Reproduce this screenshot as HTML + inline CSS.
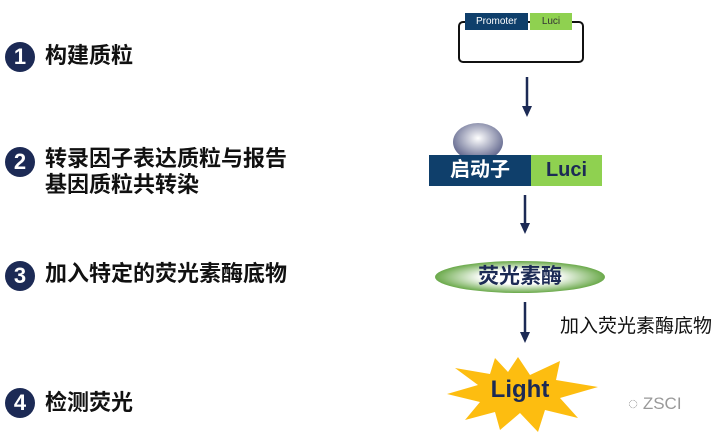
<!DOCTYPE html>
<html><head><meta charset="utf-8"><style>
body{margin:0;width:722px;height:435px;background:#fff;position:relative;overflow:hidden;font-family:"Liberation Sans","Noto Sans CJK SC",sans-serif}
.a{position:absolute}
.c{position:absolute;left:5px;width:30px;height:30px;border-radius:50%;background:#1c2a55;color:#fff;font-weight:bold;font-size:22px;text-align:center;line-height:30px}
.t{position:absolute;left:45px;font-size:22px;font-weight:bold;color:#111;line-height:26px}
</style></head><body>
<div class="c" style="top:42px">1</div><div class="t" style="top:43px">构建质粒</div>
<div class="c" style="top:147px">2</div><div class="t" style="top:146px">转录因子表达质粒与报告<br>基因质粒共转染</div>
<div class="c" style="top:261px">3</div><div class="t" style="top:261px">加入特定的荧光素酶底物</div>
<div class="c" style="top:388px">4</div><div class="t" style="top:390px">检测荧光</div>

<div class="a" style="left:458px;top:21px;width:122px;height:38px;border:2px solid #111;border-radius:5px"></div>
<div class="a" style="left:465px;top:13px;width:63px;height:17px;background:#0f3f6b;color:#fff;font-size:10px;text-align:center;line-height:17px">Promoter</div>
<div class="a" style="left:530px;top:13px;width:42px;height:17px;background:#8fd150;color:#333;font-size:10px;text-align:center;line-height:17px">Luci</div>

<svg class="a" style="left:0;top:0" width="722" height="435">
<defs><radialGradient id="g" cx="0.5" cy="0.4" r="0.6"><stop offset="0" stop-color="#fff"/><stop offset="1" stop-color="#5a6088"/></radialGradient>
<radialGradient id="e" cx="0.5" cy="0.5" r="0.5"><stop offset="0.45" stop-color="#fff"/><stop offset="1" stop-color="#6aa94a"/></radialGradient></defs>
<g stroke="#1c2a55" stroke-width="2.5" fill="#1c2a55">
<line x1="527" y1="77" x2="527" y2="108"/><polygon points="522,106 532,106 527,117" stroke="none"/>
<line x1="525" y1="195" x2="525" y2="225"/><polygon points="520,223 530,223 525,234" stroke="none"/>
<line x1="525" y1="302" x2="525" y2="334"/><polygon points="520,332 530,332 525,343" stroke="none"/>
</g>
<ellipse cx="478" cy="142" rx="25" ry="19" fill="url(#g)"/>
<ellipse cx="520" cy="277" rx="85" ry="16" fill="url(#e)"/>
<polygon fill="#fdbd10" points="518,357 530,375 560,361 556,380 598,387 560,398 578,418 545,410 538,432 520,413 500,430 495,412 465,420 480,402 447,394 478,385 455,368 490,374 495,358 508,372" />
</svg>
<div class="a" style="left:429px;top:155px;width:102px;height:31px;background:#0f3f6b;color:#fff;font-size:20px;font-weight:bold;text-align:center;line-height:31px">启动子</div>
<div class="a" style="left:531px;top:155px;width:71px;height:31px;background:#8fd150;color:#1c2a55;font-size:20px;font-weight:bold;text-align:center;line-height:31px">Luci</div>
<div class="a" style="left:435px;top:264px;width:170px;font-size:21px;font-weight:bold;color:#1c2a55;text-align:center;line-height:26px">荧光素酶</div>
<div class="a" style="left:560px;top:311px;font-size:19px;color:#111">加入荧光素酶底物</div>
<div class="a" style="left:470px;top:376px;width:100px;text-align:center;font-size:24px;font-weight:bold;color:#1c2a55">Light</div>
<div class="a" style="left:628px;top:394px;font-size:17px;color:#999">◌ ZSCI</div>
</body></html>
